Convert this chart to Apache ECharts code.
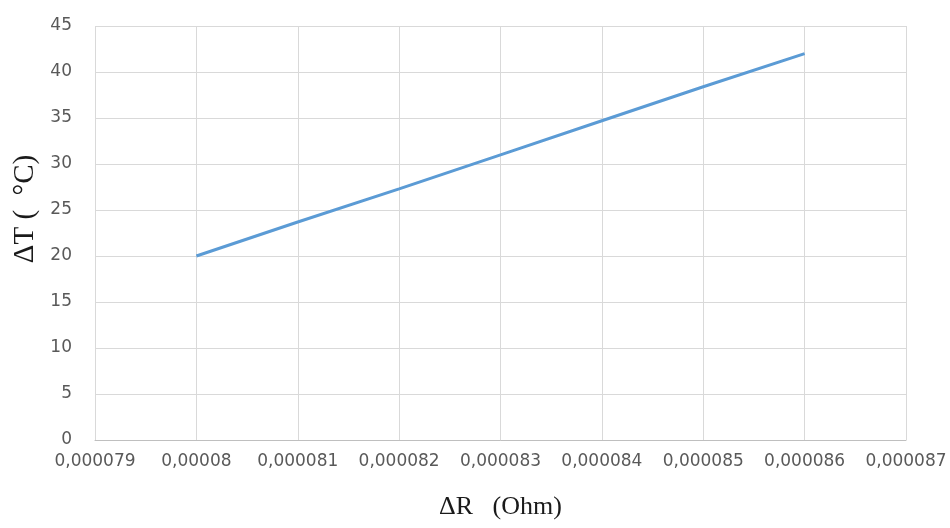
<!DOCTYPE html>
<html>
<head>
<meta charset="utf-8">
<script src="https://cdn.jsdelivr.net/npm/echarts@6/dist/echarts.min.js"></script>
<style>
  html, body { margin: 0; padding: 0; background: #fff; }
  #main { width: 950px; height: 528px; }
</style>
</head>
<body>
<div id="main"></div>
<script>
// values
var deltaR = [0.000080, 0.000081, 0.000082, 0.000083, 0.000084, 0.000085, 0.000086];
var deltaT = [20, 23.7, 27.3, 31, 34.7, 38.4, 42];
var xTicks = [0.000079, 0.000080, 0.000081, 0.000082, 0.000083, 0.000084, 0.000085, 0.000086, 0.000087];
var yTicks = [0, 5, 10, 15, 20, 25, 30, 35, 40, 45];

var fmtComma = function(v) {
	var s = v.toFixed(6).replace(/0+$/, '').replace(/\.$/, '');
	return s.replace('.', ',');
};

var myChart = echarts.init(document.getElementById('main'));
var option = {
	animation: false,
	grid: {
		left: 95,
		right: 44,
		top: 26,
		bottom: 88
	},
	xAxis: {
		type: 'value',
		min: xTicks[0],
		max: xTicks[xTicks.length - 1],
		interval: xTicks[1] - xTicks[0],
		name: 'ΔR   (Ohm)',
		nameLocation: 'middle',
		nameGap: 54,
		nameTextStyle: {
			fontFamily: 'Liberation Serif',
			fontSize: 26,
			color: '#1a1a1a'
		},
		axisLine: { show: true, lineStyle: { color: '#bfbfbf', width: 1 } },
		axisTick: { show: false },
		axisLabel: {
			margin: 13,
			fontFamily: 'DejaVu Sans',
			fontSize: 17,
			color: '#595959',
			formatter: fmtComma
		},
		splitLine: { show: true, lineStyle: { color: '#d9d9d9', width: 1 } }
	},
	yAxis: {
		type: 'value',
		min: yTicks[0],
		max: yTicks[yTicks.length - 1],
		interval: yTicks[1] - yTicks[0],
		name: 'ΔT (  °C)',
		nameLocation: 'middle',
		nameGap: 47,
		nameTextStyle: {
			fontFamily: 'Liberation Serif',
			fontSize: 29,
			color: '#1a1a1a',
			padding: [0, 0, 0, 48]
		},
		axisLine: { show: false },
		axisTick: { show: false },
		axisLabel: {
			margin: 23,
			fontFamily: 'DejaVu Sans',
			fontSize: 17,
			color: '#595959'
		},
		splitLine: { show: true, lineStyle: { color: '#d9d9d9', width: 1 } }
	},
	series: [{
		type: 'line',
		data: deltaR.map(function(r, i) { return [r, deltaT[i]]; }),
		showSymbol: false,
		lineStyle: { color: '#5b9bd5', width: 3 },
		itemStyle: { color: '#5b9bd5' }
	}]
};
myChart.setOption(option);
</script>
</body>
</html>
